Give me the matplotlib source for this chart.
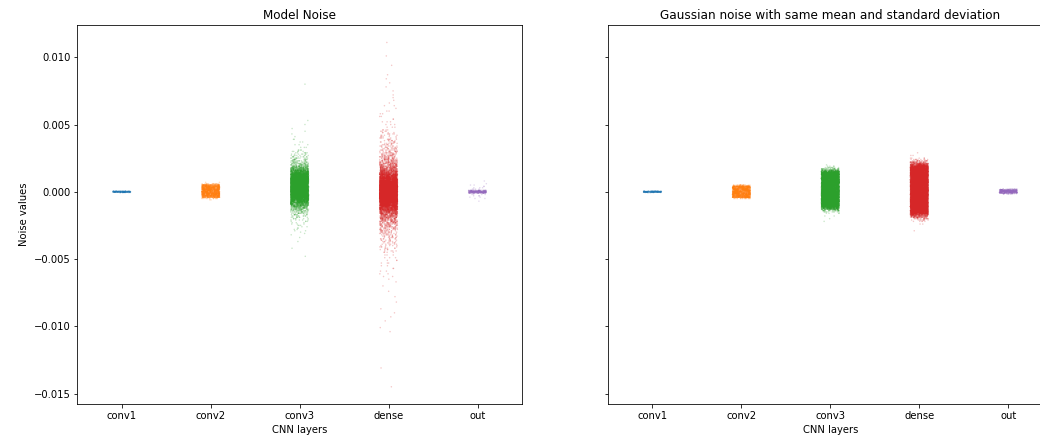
import numpy as np
import pandas as pd
import matplotlib
matplotlib.use("Agg")
import matplotlib.pyplot as plt
import seaborn as sns

# layer names on the x axis
layers = ["conv1", "conv2", "conv3", "dense", "out"]

# noise values, as (value level, how many points at that level)
# levels in units of 1e-4

# ---- Model noise ----
m_conv1_y = [-0.6, -0.3, 0.0, 0.3, 0.6]
m_conv1_n = [10, 50, 90, 50, 10]

m_conv2_y = [7, 6, 5, 4, 3, 2, 1, 0, -1, -2, -3, -4, -5, -6]
m_conv2_n = [2, 15, 100, 150, 150, 150, 150, 150, 150, 150, 150, 100, 15, 2]

m_conv3_y = [80, 53, 50, 47, 45, 43, 41, 39, 37, 35, 33, 31,
             30, 29, 28, 27, 26, 25, 24, 23, 22, 21, 20,
             19, 18, 17, 16, 15, 14, 13, 12, 11, 10, 9, 8, 7, 6, 5, 4, 3, 2, 1, 0,
             -1, -2, -3, -4, -5, -6, -7, -8, -9,
             -10, -11, -12, -13, -14, -15, -16, -17, -18, -19, -20, -21, -22,
             -23, -24, -25, -26, -27, -28, -29, -30, -31, -32,
             -34, -37, -42, -48]
m_conv3_n = [1, 1, 1, 1, 1, 1, 1, 2, 2, 3, 3, 4,
             5, 6, 7, 8, 10, 12, 14, 17, 20, 25, 30,
             45, 60, 80, 100, 130, 160, 190, 220, 240, 260, 280, 280, 280, 280, 280, 280, 280, 280, 280, 280,
             280, 280, 260, 240, 220, 190, 160, 130, 100,
             80, 60, 45, 34, 26, 20, 16, 13, 10, 8, 6, 5, 4,
             3, 3, 3, 2, 2, 2, 2, 1, 1, 1,
             1, 1, 1, 1]

m_dense_y = [111, 101, 94, 87, 84, 81, 78, 75, 72, 70, 68, 66, 64, 62, 60,
             58, 56, 54, 52, 50, 48, 46,
             45, 44, 43, 42, 41, 40, 39, 38, 37, 36, 35, 34, 33, 32, 31,
             30, 29, 28, 27, 26, 25, 24, 23, 22, 21, 20, 19, 18, 17, 16,
             15, 14, 13, 12, 11, 10, 9, 8, 7, 6, 5, 4, 3, 2, 1, 0,
             -1, -2, -3, -4, -5, -6, -7, -8, -9, -10, -11, -12, -13, -14, -15,
             -16, -17, -18, -19, -20, -21, -22, -23, -24, -25, -26, -27, -28, -29, -30,
             -31, -32, -33, -34, -35, -36, -37, -38, -39, -40, -41, -42, -43, -44, -45,
             -47, -49, -51, -53, -55, -57, -59, -61, -63, -65, -67, -70,
             -74, -78, -82, -87, -90, -93, -96, -101, -104, -131, -145]
m_dense_n = [1, 1, 1, 1, 1, 1, 1, 1, 1, 1, 1, 1, 2, 1, 2,
             2, 2, 2, 3, 3, 3, 4,
             4, 4, 5, 5, 5, 6, 6, 7, 7, 8, 8, 9, 10, 11, 12,
             13, 14, 16, 18, 20, 22, 25, 28, 32, 36, 40, 46, 52, 60, 70,
             85, 100, 120, 140, 160, 180, 200, 230, 260, 290, 320, 350, 380, 400, 400, 400,
             400, 400, 380, 350, 320, 290, 260, 230, 200, 180, 160, 140, 120, 100, 85,
             70, 60, 52, 46, 40, 36, 32, 28, 25, 22, 20, 18, 16, 14, 13,
             11, 10, 9, 8, 8, 7, 7, 6, 6, 5, 5, 5, 4, 4, 4,
             3, 3, 3, 3, 2, 2, 2, 2, 2, 1, 1, 1,
             1, 1, 1, 1, 1, 1, 1, 1, 1, 1, 1]

m_out_y = [8, 6, 5, 4, 3, 2, 1, 0.5, 0, -0.5, -1, -2, -3, -4, -5, -7]
m_out_n = [1, 1, 2, 2, 3, 4, 40, 70, 90, 70, 40, 4, 3, 2, 2, 1]

# ---- Gaussian noise with same mean / std ----
g_conv1_y = [-0.6, -0.3, 0.0, 0.3, 0.6]
g_conv1_n = [10, 50, 90, 50, 10]

g_conv2_y = [5, 4, 3, 2, 1, 0, -1, -2, -3, -4, -5]
g_conv2_n = [20, 150, 150, 150, 150, 150, 150, 150, 150, 150, 20]

g_conv3_y = [20, 19, 18, 17, 16, 15, 14, 13, 12, 11, 10, 9, 8, 7, 6, 5, 4, 3, 2, 1, 0,
             -1, -2, -3, -4, -5, -6, -7, -8, -9, -10, -11, -12, -13, -14, -15, -16, -18, -20, -22]
g_conv3_n = [1, 4, 12, 30, 70, 150, 220, 240, 250, 250, 250, 250, 250, 250, 250, 250, 250, 250, 250, 250, 250,
             250, 250, 250, 250, 250, 250, 250, 250, 250, 240, 220, 150, 70, 30, 10, 4, 2, 1, 1]

g_dense_y = [29, 27, 25, 24, 23, 22, 21, 20, 19, 18, 17, 16, 15, 14, 13, 12, 11, 10,
             9, 8, 7, 6, 5, 4, 3, 2, 1, 0,
             -1, -2, -3, -4, -5, -6, -7, -8, -9, -10, -11, -12, -13, -14, -15, -16,
             -17, -18, -19, -20, -21, -22, -24, -29]
g_dense_n = [1, 2, 5, 10, 20, 40, 70, 120, 180, 230, 260, 270, 270, 270, 270, 270, 270, 270,
             270, 270, 270, 270, 270, 270, 270, 270, 270, 270,
             270, 270, 270, 270, 270, 270, 270, 270, 270, 270, 270, 270, 270, 260, 230, 180,
             120, 70, 40, 20, 10, 5, 2, 1]

g_out_y = [2, 1.5, 1, 0.5, 0, -0.5, -1, -1.5]
g_out_n = [20, 50, 80, 90, 90, 80, 50, 20]

colors = ["#1f77b4", "#ff7f0e", "#2ca02c", "#d62728", "#9467bd"]


def build(ys, ns):
    frames = []
    for name, y, n in zip(layers, ys, ns):
        vals = np.repeat(np.array(y, dtype=float) * 1e-4, n)
        frames.append(pd.DataFrame({"layer": name, "value": vals}))
    return pd.concat(frames, ignore_index=True)


model_df = build([m_conv1_y, m_conv2_y, m_conv3_y, m_dense_y, m_out_y],
                 [m_conv1_n, m_conv2_n, m_conv3_n, m_dense_n, m_out_n])
gauss_df = build([g_conv1_y, g_conv2_y, g_conv3_y, g_dense_y, g_out_y],
                 [g_conv1_n, g_conv2_n, g_conv3_n, g_dense_n, g_out_n])

np.random.seed(0)  # only for the horizontal jitter
fig = plt.figure(figsize=(1040 / 72, 444 / 72), dpi=72)
ax1 = fig.add_axes([0.0743, 0.0901, 0.4276, 0.853])
ax2 = fig.add_axes([0.5846, 0.0901, 0.4276, 0.853], sharey=ax1)

for ax, df, title in [(ax1, model_df, "Model Noise"),
                      (ax2, gauss_df, "Gaussian noise with same mean and standard deviation")]:
    sns.stripplot(data=df, x="layer", y="value", hue="layer", order=layers,
                  hue_order=layers, palette=colors, legend=False,
                  size=1.5, alpha=0.25, jitter=True, ax=ax)
    ax.set_title(title)
    ax.set_xlabel("CNN layers")
    ax.set_ylabel("")

ax1.set_ylabel("Noise values")
ax2.tick_params(labelleft=False)

fig.savefig("out.png", dpi=72)
